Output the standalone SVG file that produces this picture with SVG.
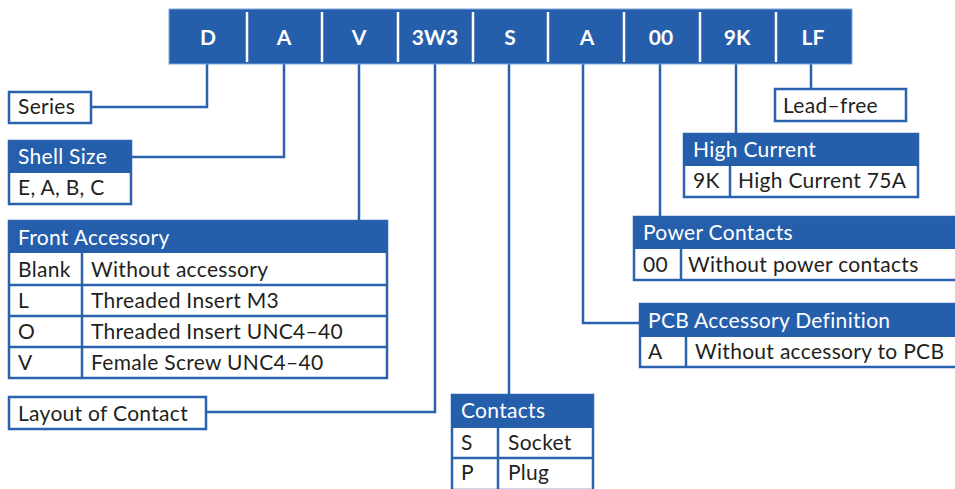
<svg xmlns="http://www.w3.org/2000/svg" width="955" height="489" viewBox="0 0 955 489">
<style>
.hdr{fill:#255EAB;}
.box{fill:#fff;stroke:#2B62AE;stroke-width:2.5;}
.ln{stroke:#2B62AE;stroke-width:2.5;fill:none;}
.cn{stroke:#2B62AE;stroke-width:2.5;fill:none;}
.t{font-family:Lato,"Liberation Sans",sans-serif;font-size:21px;letter-spacing:0.3px;fill:#231F20;}
.th{font-family:Lato,"Liberation Sans",sans-serif;font-size:21px;letter-spacing:0.3px;fill:#fff;}
.code{font-family:Lato,"Liberation Sans",sans-serif;font-size:21px;font-weight:bold;fill:#fff;text-anchor:middle;}
.div{stroke:#fff;stroke-width:2.5;}
</style>
<g id="connectors">
<path class="cn" d="M207,64 V107 H91"/>
<path class="cn" d="M284,64 V157 H131"/>
<path class="cn" d="M359,64 V221"/>
<path class="cn" d="M435,64 V412 H206"/>
<path class="cn" d="M509,64 V395"/>
<path class="cn" d="M583,64 V323 H639"/>
<path class="cn" d="M660,64 V217"/>
<path class="cn" d="M736,64 V133"/>
<path class="cn" d="M811,64 V89"/>
</g>
<g id="code-bar">
<rect x="169" y="9" width="683" height="55" fill="#255EAB" stroke="#7FA7DA" stroke-width="1"/>
<line class="div" x1="247" y1="12" x2="247" y2="62"/>
<line class="div" x1="322" y1="12" x2="322" y2="62"/>
<line class="div" x1="398" y1="12" x2="398" y2="62"/>
<line class="div" x1="473" y1="12" x2="473" y2="62"/>
<line class="div" x1="548" y1="12" x2="548" y2="62"/>
<line class="div" x1="624" y1="12" x2="624" y2="62"/>
<line class="div" x1="700" y1="12" x2="700" y2="62"/>
<line class="div" x1="776" y1="12" x2="776" y2="62"/>
<text class="code" x="208" y="45">D</text>
<text class="code" x="284" y="45">A</text>
<text class="code" x="359" y="45">V</text>
<text class="code" x="435" y="45">3W3</text>
<text class="code" x="510" y="45">S</text>
<text class="code" x="587" y="45">A</text>
<text class="code" x="661" y="45">00</text>
<text class="code" x="737" y="45">9K</text>
<text class="code" x="813" y="45">LF</text>
</g>
<g id="series">
<rect class="box" x="9" y="92" width="82" height="31"/>
<text class="t" x="18" y="114">Series</text>
</g>
<g id="shell-size">
<rect class="box" x="9" y="141" width="122" height="63"/>
<rect class="hdr" x="9" y="141" width="122" height="32"/>
<text class="th" x="18" y="164">Shell Size</text>
<text class="t" x="18" y="195">E, A, B, C</text>
</g>
<g id="front-accessory">
<rect class="box" x="9" y="221" width="378" height="157"/>
<rect class="hdr" x="9" y="221" width="378" height="32"/>
<line class="ln" x1="9" y1="285" x2="387" y2="285"/>
<line class="ln" x1="9" y1="316" x2="387" y2="316"/>
<line class="ln" x1="9" y1="347" x2="387" y2="347"/>
<line class="ln" x1="82" y1="253" x2="82" y2="378"/>
<text class="th" x="18" y="245">Front Accessory</text>
<text class="t" x="18" y="277">Blank</text>
<text class="t" x="91" y="277">Without accessory</text>
<text class="t" x="18" y="308">L</text>
<text class="t" x="91" y="308">Threaded Insert M3</text>
<text class="t" x="18" y="339">O</text>
<text class="t" x="91" y="339">Threaded Insert UNC4–40</text>
<text class="t" x="18" y="370">V</text>
<text class="t" x="91" y="370">Female Screw UNC4–40</text>
</g>
<g id="layout-of-contact">
<rect class="box" x="9" y="397" width="197" height="32"/>
<text class="t" x="18" y="421">Layout of Contact</text>
</g>
<g id="contacts">
<rect class="box" x="452" y="395" width="141" height="95"/>
<rect class="hdr" x="452" y="395" width="141" height="33"/>
<line class="ln" x1="452" y1="458" x2="593" y2="458"/>
<line class="ln" x1="498" y1="428" x2="498" y2="490"/>
<text class="th" x="461" y="418">Contacts</text>
<text class="t" x="461" y="450">S</text>
<text class="t" x="508" y="450">Socket</text>
<text class="t" x="461" y="480">P</text>
<text class="t" x="508" y="480">Plug</text>
</g>
<g id="pcb-accessory">
<rect class="box" x="640" y="304" width="320" height="63"/>
<rect class="hdr" x="640" y="304" width="320" height="33"/>
<line class="ln" x1="686" y1="337" x2="686" y2="367"/>
<text class="th" x="648" y="328">PCB Accessory Definition</text>
<text class="t" x="648" y="359">A</text>
<text class="t" x="695" y="359">Without accessory to PCB</text>
</g>
<g id="power-contacts">
<rect class="box" x="634" y="217" width="326" height="63"/>
<rect class="hdr" x="634" y="217" width="326" height="32"/>
<line class="ln" x1="681" y1="249" x2="681" y2="280"/>
<text class="th" x="643" y="240">Power Contacts</text>
<text class="t" x="643" y="272">00</text>
<text class="t" x="688" y="272">Without power contacts</text>
</g>
<g id="high-current">
<rect class="box" x="684" y="134" width="234" height="63"/>
<rect class="hdr" x="684" y="134" width="234" height="32"/>
<line class="ln" x1="730" y1="166" x2="730" y2="197"/>
<text class="th" x="693" y="157">High Current</text>
<text class="t" x="693" y="188">9K</text>
<text class="t" x="738" y="188">High Current 75A</text>
</g>
<g id="lead-free">
<rect class="box" x="775" y="89" width="131" height="32"/>
<text class="t" x="783" y="113">Lead–free</text>
</g>
</svg>
